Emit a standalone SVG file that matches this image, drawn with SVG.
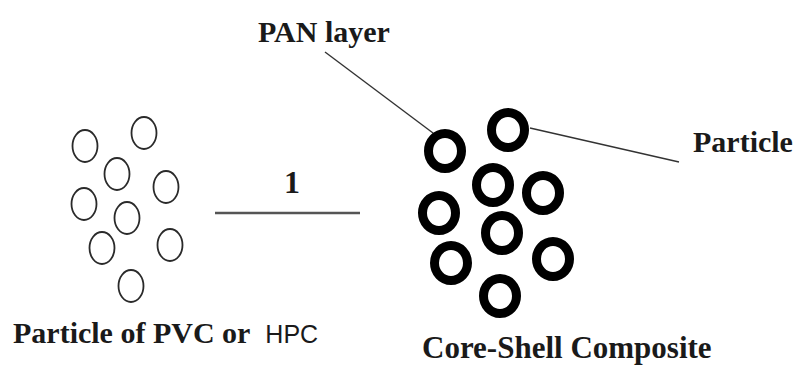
<svg xmlns="http://www.w3.org/2000/svg" width="798" height="365" viewBox="0 0 798 365">
<style>
.t{font-family:"Liberation Serif","Times New Roman",serif;font-weight:bold;fill:#1a1a1a}
.thin ellipse{fill:none;stroke:#2a2a2a;stroke-width:1.8}
.thick ellipse{fill:none;stroke:#000;stroke-width:9}
.ln{stroke:#333;stroke-width:1.4;fill:none}
</style>
<rect width="798" height="365" fill="#fff"/>
<g id="pvc-particles" class="thin">
<ellipse cx="85" cy="146" rx="12.5" ry="16"/>
<ellipse cx="144" cy="133" rx="12.5" ry="16"/>
<ellipse cx="117" cy="174" rx="12.5" ry="16"/>
<ellipse cx="166" cy="187" rx="12.5" ry="16"/>
<ellipse cx="84" cy="204" rx="12.5" ry="16"/>
<ellipse cx="127" cy="218" rx="12.5" ry="16"/>
<ellipse cx="102" cy="248" rx="12.5" ry="16"/>
<ellipse cx="170" cy="245" rx="12.5" ry="16"/>
<ellipse cx="131" cy="286" rx="12.5" ry="16"/>
</g>
<g id="core-shell" class="thick">
<ellipse cx="445" cy="151" rx="16.5" ry="17.5"/>
<ellipse cx="508" cy="130" rx="16.5" ry="17.5"/>
<ellipse cx="493" cy="185" rx="16.5" ry="17.5"/>
<ellipse cx="543" cy="193" rx="16.5" ry="17.5"/>
<ellipse cx="439" cy="213" rx="16.5" ry="17.5"/>
<ellipse cx="502" cy="233" rx="16.5" ry="17.5"/>
<ellipse cx="451" cy="263" rx="16.5" ry="17.5"/>
<ellipse cx="553" cy="259" rx="16.5" ry="17.5"/>
<ellipse cx="500" cy="296" rx="16.5" ry="17.5"/>
</g>
<g id="connectors">
<line class="ln" x1="325" y1="52" x2="433" y2="133"/>
<line class="ln" x1="530" y1="128" x2="679" y2="162"/>
<line x1="215" y1="213" x2="360" y2="213" stroke="#555" stroke-width="2.5"/>
</g>
<g id="label-pan"><text class="t" x="258" y="42" font-size="30">PAN layer</text></g>
<g id="label-particle"><text class="t" x="693" y="152" font-size="30">Particle</text></g>
<g id="label-step"><text class="t" x="292" y="193" font-size="32" text-anchor="middle">1</text></g>
<g id="label-pvc"><text class="t" x="13" y="343" font-size="30">Particle of PVC or <tspan dx="8" font-family="'Liberation Sans',Arial,sans-serif" font-weight="normal" font-size="25">HPC</tspan></text></g>
<g id="label-composite"><text class="t" x="422" y="358" font-size="31">Core-Shell Composite</text></g>
</svg>
